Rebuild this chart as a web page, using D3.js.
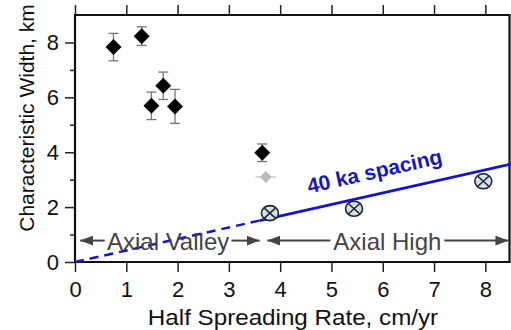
<!DOCTYPE html>
<html>
<head>
<meta charset="utf-8">
<script src="https://cdn.jsdelivr.net/npm/d3@7"></script>
<style>
  html, body { margin: 0; padding: 0; background: #fff; }
  svg { display: block; font-family: "Liberation Sans", Arial, sans-serif; }
</style>
</head>
<body>
<div id="chart"></div>
<script>
const width = 511;
const height = 330;

// black diamonds: rate, width, error
const rates = [0.75, 1.30, 1.49, 1.72, 1.95, 3.65];
const widths = [7.83, 8.23, 5.69, 6.42, 5.67, 3.98];
const errs = [0.5, 0.34, 0.5, 0.5, 0.62, 0.32];

// faint grey point
const greyRate = [3.72];
const greyWidth = [3.1];
const greyErr = [0.2];

// crossed circles
const highRates = [3.80, 5.44, 7.96];
const highWidths = [1.78, 1.94, 2.94];

// 40 ka spacing line
const lineRates = [0, 3.6, 8.5];
const lineWidths = [0, 1.51, 3.57];

const xTicks = [0, 1, 2, 3, 4, 5, 6, 7, 8];
const yMajor = [0, 2, 4, 6, 8];
const yMinor = [1, 3, 5, 7];

const x = d3.scaleLinear().domain([0, 8.5]).range([75, 511]);
const y = d3.scaleLinear().domain([0, 9]).range([262, 15]);

const svg = d3.select('#chart')
    .append('svg')
    .attr('width', width)
    .attr('height', height);

svg.append('defs').append('marker')
    .attr('id', 'arrow')
    .attr('viewBox', '0 0 13 10')
    .attr('refX', 13)
    .attr('refY', 5)
    .attr('markerWidth', 13)
    .attr('markerHeight', 10)
    .attr('markerUnits', 'userSpaceOnUse')
    .attr('orient', 'auto-start-reverse')
    .append('path')
    .attr('d', 'M0,0 L13,5 L0,10 Z')
    .attr('fill', '#444');

// axes
const axBottom = svg.append('g')
    .attr('transform', 'translate(0,' + y(0) + ')')
    .call(d3.axisBottom(x).tickValues(xTicks).tickSize(10).tickSizeOuter(0).tickPadding(9));
const axTop = svg.append('g')
    .attr('transform', 'translate(0,' + y(9) + ')')
    .call(d3.axisTop(x).tickValues(xTicks).tickSize(10).tickSizeOuter(0).tickFormat(''));
const axLeft = svg.append('g')
    .attr('transform', 'translate(' + x(0) + ',0)')
    .call(d3.axisLeft(y).tickValues(yMajor).tickSize(10).tickSizeOuter(0).tickPadding(6));
const axLeftMinor = svg.append('g')
    .attr('transform', 'translate(' + x(0) + ',0)')
    .call(d3.axisLeft(y).tickValues(yMinor).tickSize(5).tickSizeOuter(0).tickFormat(''));

[axBottom, axTop, axLeft, axLeftMinor].forEach(g => {
    g.select('.domain').remove();
    g.selectAll('line').attr('stroke', '#222').attr('stroke-width', 1.5);
    g.selectAll('text').attr('font-size', 22).attr('fill', '#111')
        .attr('font-family', '"Liberation Sans", Arial, sans-serif');
});

// frame
svg.append('path')
    .attr('d', 'M' + x(0) + ',' + y(9) + ' H' + (x(8.5) - 1.5) + ' V' + y(0) + ' H' + x(0) + ' Z')
    .attr('fill', 'none')
    .attr('stroke', '#111')
    .attr('stroke-width', 2.2);

// 40 ka line
const lineData = lineRates.map((r, i) => ({ r: r, w: lineWidths[i] }));
const line = d3.line().x(d => x(d.r)).y(d => y(d.w));
svg.append('path')
    .attr('d', line(lineData.slice(0, 2)))
    .attr('fill', 'none')
    .attr('stroke', '#1414cc')
    .attr('stroke-width', 2.5)
    .attr('stroke-dasharray', '9,6');
svg.append('path')
    .attr('d', line(lineData.slice(1)))
    .attr('fill', 'none')
    .attr('stroke', '#1414cc')
    .attr('stroke-width', 2.8);

const ang = Math.atan2(y(lineWidths[2]) - y(lineWidths[1]), x(lineRates[2]) - x(lineRates[1])) * 180 / Math.PI;
svg.append('text')
    .attr('transform', 'translate(' + x(5.87) + ',' + (y(2.465) - 16) + ') rotate(' + ang + ')')
    .attr('text-anchor', 'middle')
    .attr('font-size', 21)
    .attr('font-weight', 'bold')
    .attr('fill', '#1414cc')
    .text('40 ka spacing');

// region annotations
function region(x0, x1, label, tx0, tx1) {
    const yy = y(0.78);
    svg.append('line')
        .attr('x1', x(tx0)).attr('x2', x(x0)).attr('y1', yy).attr('y2', yy)
        .attr('stroke', '#444').attr('stroke-width', 2).attr('marker-end', 'url(#arrow)');
    svg.append('line')
        .attr('x1', x(tx1)).attr('x2', x(x1)).attr('y1', yy).attr('y2', yy)
        .attr('stroke', '#444').attr('stroke-width', 2).attr('marker-end', 'url(#arrow)');
    svg.append('text')
        .attr('x', (x(tx0) + x(tx1)) / 2)
        .attr('y', yy + 9)
        .attr('text-anchor', 'middle')
        .attr('font-size', 24)
        .attr('fill', '#444')
        .text(label);
}
region(0.1, 3.6, 'Axial Valley', 0.58, 3.05);
region(3.75, 8.45, 'Axial High', 4.98, 7.2);

// grey point
const gx = x(greyRate[0]), gy = y(greyWidth[0]);
svg.append('line').attr('x1', gx).attr('x2', gx).attr('y1', y(greyWidth[0] + greyErr[0])).attr('y2', y(greyWidth[0] - greyErr[0]))
    .attr('stroke', '#bbb').attr('stroke-width', 1.5);
svg.append('line').attr('x1', x(greyRate[0] - greyErr[0])).attr('x2', x(greyRate[0] + greyErr[0])).attr('y1', gy).attr('y2', gy)
    .attr('stroke', '#ccc').attr('stroke-width', 1.5);
svg.append('path')
    .attr('transform', 'translate(' + gx + ',' + gy + ')')
    .attr('d', 'M0,-6 L6,0 L0,6 L-6,0 Z')
    .attr('fill', '#bbb');

// error bars + diamonds
const pts = rates.map((r, i) => ({ r: r, w: widths[i], e: errs[i] }));
const eb = svg.append('g').attr('stroke', '#777').attr('stroke-width', 1.3);
pts.forEach(d => {
    const cx = x(d.r);
    eb.append('line').attr('x1', cx).attr('x2', cx).attr('y1', y(d.w + d.e)).attr('y2', y(d.w - d.e));
    eb.append('line').attr('x1', cx - 5).attr('x2', cx + 5).attr('y1', y(d.w + d.e)).attr('y2', y(d.w + d.e));
    eb.append('line').attr('x1', cx - 5).attr('x2', cx + 5).attr('y1', y(d.w - d.e)).attr('y2', y(d.w - d.e));
});
svg.append('g').selectAll('path')
    .data(pts)
    .enter()
    .append('path')
    .attr('transform', d => 'translate(' + x(d.r) + ',' + y(d.w) + ')')
    .attr('d', 'M0,-8 L8,0 L0,8 L-8,0 Z')
    .attr('fill', '#000');

// crossed circles
const hp = highRates.map((r, i) => ({ r: r, w: highWidths[i] }));
const cc = svg.append('g').selectAll('g')
    .data(hp)
    .enter()
    .append('g')
    .attr('transform', d => 'translate(' + x(d.r) + ',' + y(d.w) + ')');
cc.append('ellipse')
    .attr('rx', 8.5)
    .attr('ry', 7.5)
    .attr('fill', '#cfe0f0')
    .attr('stroke', '#222')
    .attr('stroke-width', 1.6);
cc.append('path')
    .attr('d', 'M-5.5,-5 L5.5,5 M-5.5,5 L5.5,-5')
    .attr('stroke', '#222')
    .attr('stroke-width', 1.5);

// axis titles
svg.append('text')
    .attr('transform', 'translate(293,325) scale(1.1,1)')
    .attr('text-anchor', 'middle')
    .attr('font-size', 22)
    .attr('fill', '#111')
    .text('Half Spreading Rate, cm/yr');
svg.append('text')
    .attr('transform', 'translate(34,118) rotate(-90)')
    .attr('text-anchor', 'middle')
    .attr('font-size', 21)
    .attr('fill', '#111')
    .text('Characteristic Width, km');
</script>
</body>
</html>
